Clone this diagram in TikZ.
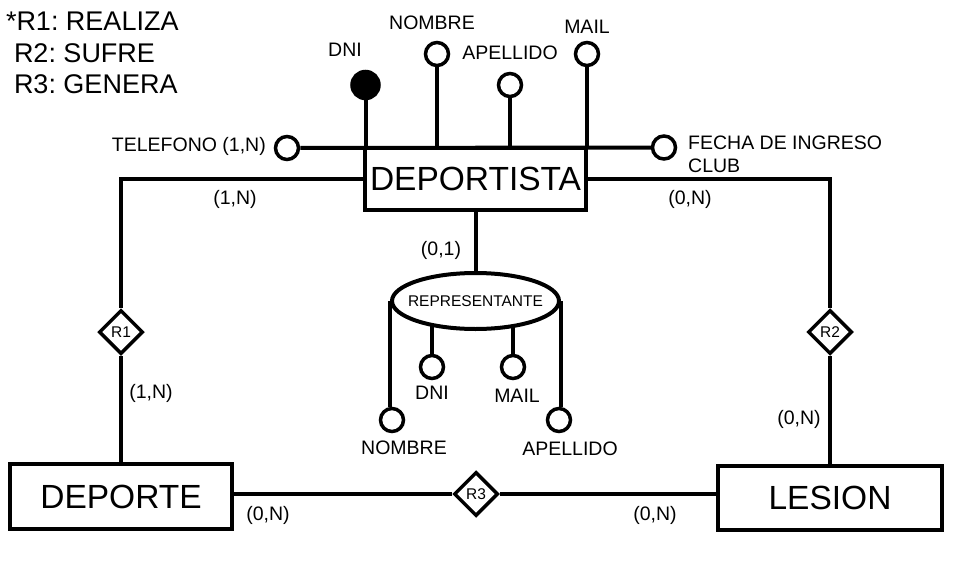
\documentclass[tikz,border=0pt]{standalone}
\usepackage{fontspec}
\setmainfont{Liberation Sans}
\usetikzlibrary{shapes.geometric}
\pgfdeclarelayer{background}
\pgfsetlayers{background,main}
\frenchspacing
\begin{document}
\begin{tikzpicture}[x=1pt,y=-1pt,line width=4pt,
  ent/.style={draw,rectangle,inner sep=0pt,font=\fontsize{33.5}{36}\selectfont},
  rel/.style={draw,diamond,minimum width=44pt,minimum height=44pt,inner sep=0pt,line width=3.5pt,fill=white,font=\fontsize{15.5}{17}\selectfont},
  attr/.style={draw,circle,minimum size=23pt,inner sep=0pt,line width=3.5pt,fill=white},
  keyattr/.style={attr,fill=black},
  lbl/.style={inner sep=0pt,font=\fontsize{19.5}{23}\selectfont},
  card/.style={lbl},
  leg/.style={inner sep=0pt,anchor=west,font=\fontsize{27}{30}\selectfont}]
\useasboundingbox (0,0) rectangle (958,575);
% legend
\node[leg] (l1) at (4,21) {*R1: REALIZA};
\node[leg] (l2) at (12,53) {R2: SUFRE};
\node[leg] (l3) at (12,84) {R3: GENERA};
% entities
\node[ent,minimum width=221pt,minimum height=62pt] (dep) at (475.5,179) {DEPORTISTA};
\node[ent,minimum width=222pt,minimum height=65pt] (dte) at (121,496.5) {DEPORTE};
\node[ent,minimum width=224pt,minimum height=64pt] (les) at (830,498) {LESION};
% relationships
\node[rel] (r1) at (121,332) {R1};
\node[rel] (r2) at (830,332) {R2};
\node[rel] (r3) at (476,494) {R3};
% attributes of DEPORTISTA
\node[keyattr,minimum size=27pt] (adni) at (365.5,85) {};
\node[attr] (anom) at (437,54) {};
\node[attr] (aape) at (510,85) {};
\node[attr] (amail) at (587,54) {};
\node[attr] (atel) at (287,148) {};
\node[attr] (afec) at (664,147.5) {};
% representante
\node[draw,ellipse,minimum width=167pt,minimum height=56pt,inner sep=0pt,fill=white] (rep) at (475.5,301) {};
\node[inner sep=0pt,font=\fontsize{15.5}{18}\selectfont] (trep) at (rep.center) {REPRESENTANTE};
\node[attr] (rdni) at (432,367) {};
\node[attr] (rmail) at (513,367) {};
\node[attr] (rnom) at (392,420) {};
\node[attr] (rape) at (559,420) {};
% connectors
\draw (atel) -- (afec);
\draw (adni) -- (adni |- dep.north);
\draw (anom) -- (anom |- dep.north);
\draw (aape) -- (aape |- dep.north);
\draw (amail) -- (amail |- dep.north);
\draw (dep.west) -| (r1.north);
\draw (r1.south) -- (dte.north);
\draw (dep.east) -| (r2.north);
\draw (r2.south) -- (les.north);
\draw (r3.west) -- (r3.west -| dte.east);
\draw (r3.east) -- (r3.east -| les.west);
\draw (dep.south) -- (rep.north);
\draw (rep.west) -- (rep.west |- rnom.north);
\draw (rep.east) -- (rep.east |- rape.north);
\begin{pgfonlayer}{background}
\draw[line width=4pt] (rdni) -- (rdni |- rep.center);
\draw[line width=4pt] (rmail) -- (rmail |- rep.center);
\end{pgfonlayer}
% labels
\node[lbl] (tdni) at (345,50) {DNI};
\node[lbl] (tnom) at (432,23) {NOMBRE};
\node[lbl] (tape) at (510,53) {APELLIDO};
\node[lbl] (tmail) at (587,27) {MAIL};
\node[lbl,anchor=east] (ttel) at (266,146) {TELEFONO (1,N)};
\node[lbl,anchor=north west,align=left] (tfec) at (688,136) {FECHA DE INGRESO\\CLUB};
\node[lbl] (trdni) at (432,393) {DNI};
\node[lbl] (trmail) at (517,396) {MAIL};
\node[lbl] (trnom) at (404,448) {NOMBRE};
\node[lbl] (trape) at (570,449) {APELLIDO};
% cardinalities
\node[card] (c1) at (235,199) {(1,N)};
\node[card] (c2) at (690,199) {(0,N)};
\node[card] (c3) at (441,250) {(0,1)};
\node[card] (c4) at (151,393) {(1,N)};
\node[card] (c5) at (799,419) {(0,N)};
\node[card] (c6) at (268,515) {(0,N)};
\node[card] (c7) at (655,515) {(0,N)};
\end{tikzpicture}
\end{document}
